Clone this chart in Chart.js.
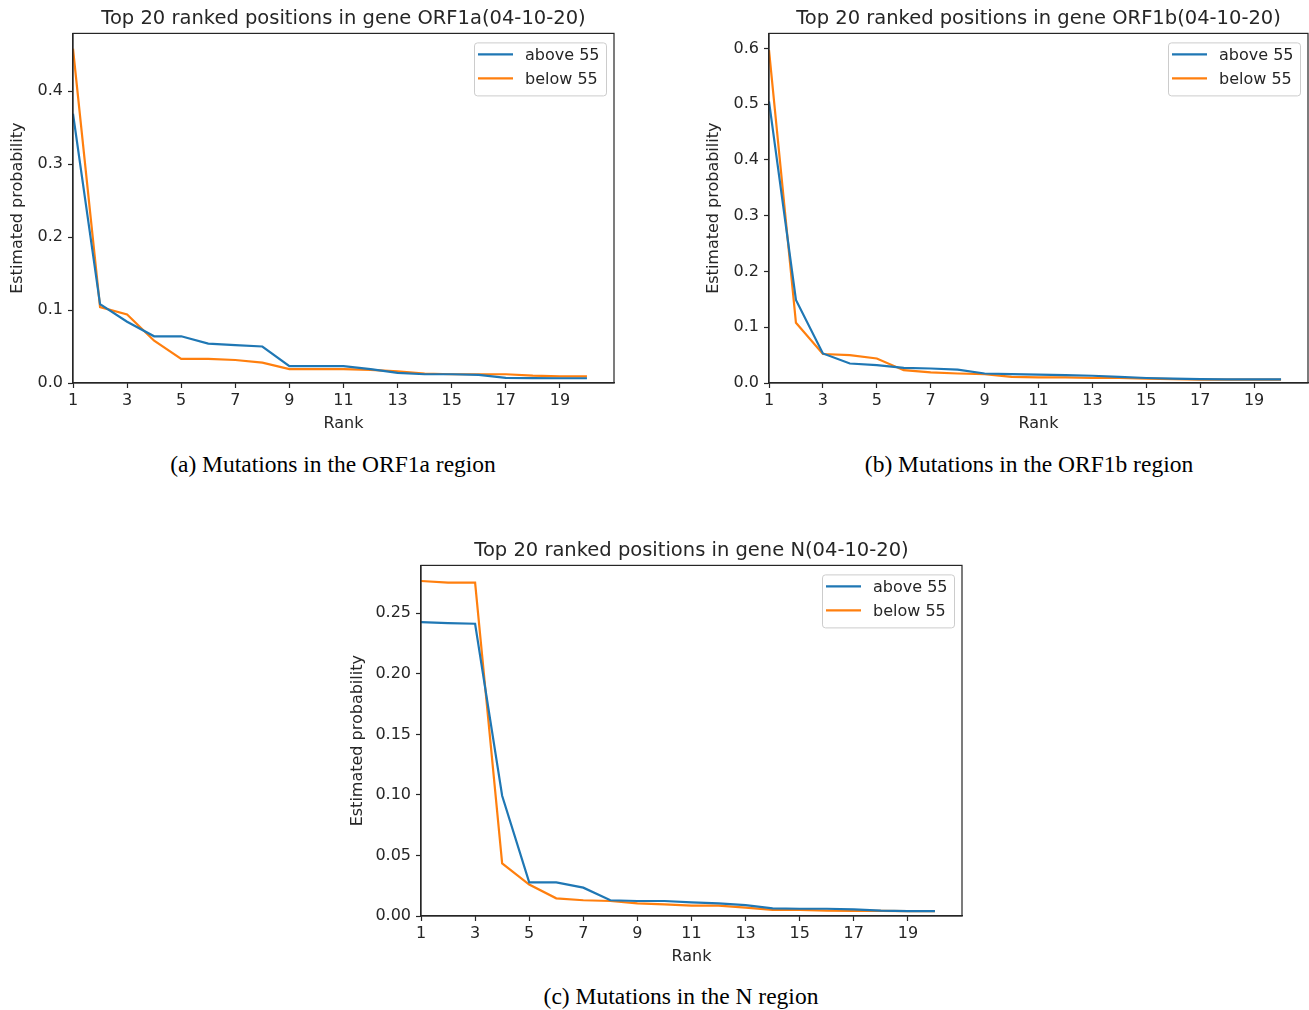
<!DOCTYPE html>
<html>
<head>
<meta charset="utf-8">
<script src="https://cdn.jsdelivr.net/npm/chart.js@4"></script>
<style>
  body { margin: 0; background: #fff; width: 1309px; height: 1010px; position: relative; overflow: hidden; }
  canvas { position: absolute; }
  .caption { position: absolute; font-family: "Liberation Serif", "Times New Roman", serif; font-size: 23.5px; color: #000;
             line-height: 26px; white-space: nowrap; transform: translateX(-50%); }
</style>
</head>
<body>
<canvas id="chartA" width="640" height="440" style="left:0px;top:0px"></canvas>
<canvas id="chartB" width="613" height="440" style="left:696px;top:0px"></canvas>
<canvas id="chartC" width="640" height="441" style="left:348px;top:532px"></canvas>
<div class="caption" style="left:333px;top:451px">(a) Mutations in the ORF1a region</div>
<div class="caption" style="left:1029px;top:451px">(b) Mutations in the ORF1b region</div>
<div class="caption" style="left:681px;top:983px">(c) Mutations in the N region</div>
<script>
// ranks on the x axis
const ranks = [1, 2, 3, 4, 5, 6, 7, 8, 9, 10, 11, 12, 13, 14, 15, 16, 17, 18, 19, 20];
const rankTicks = [1, 3, 5, 7, 9, 11, 13, 15, 17, 19];
const seriesNames = ['above 55', 'below 55'];

// ORF1a
const orf1aAbove = [0.369, 0.108, 0.084, 0.064, 0.064, 0.054, 0.052, 0.050, 0.023, 0.023, 0.023, 0.019, 0.014, 0.012, 0.012, 0.011, 0.007, 0.0068, 0.0065, 0.0065];
const orf1aBelow = [0.458, 0.104, 0.094, 0.058, 0.033, 0.033, 0.0315, 0.028, 0.019, 0.019, 0.019, 0.018, 0.016, 0.013, 0.012, 0.012, 0.012, 0.010, 0.009, 0.009];
const orf1aTicks = [0.0, 0.1, 0.2, 0.3, 0.4];

// ORF1b
const orf1bAbove = [0.505, 0.149, 0.053, 0.035, 0.032, 0.027, 0.026, 0.024, 0.017, 0.016, 0.015, 0.014, 0.013, 0.011, 0.009, 0.008, 0.007, 0.0065, 0.0065, 0.0065];
const orf1bBelow = [0.597, 0.108, 0.052, 0.050, 0.044, 0.023, 0.019, 0.017, 0.016, 0.011, 0.010, 0.010, 0.009, 0.009, 0.008, 0.007, 0.006, 0.006, 0.006, 0.006];
const orf1bTicks = [0.0, 0.1, 0.2, 0.3, 0.4, 0.5, 0.6];

// N
const nAbove = [0.2428, 0.242, 0.2414, 0.0993, 0.0278, 0.0278, 0.0234, 0.013, 0.0124, 0.0124, 0.0113, 0.0105, 0.009, 0.0063, 0.006, 0.006, 0.0055, 0.0045, 0.004, 0.004];
const nBelow = [0.2767, 0.2753, 0.2753, 0.0435, 0.026, 0.0146, 0.013, 0.0124, 0.0104, 0.0096, 0.0085, 0.0085, 0.0069, 0.005, 0.005, 0.0045, 0.0043, 0.0043, 0.004, 0.004];
const nTicks = [0.00, 0.05, 0.10, 0.15, 0.20, 0.25];

const BLUE = '#1f77b4';
const ORANGE = '#ff7f0e';
const AXIS = '#262626';
const FONT = '"DejaVu Sans", sans-serif';

// full frame around the plot area, like matplotlib spines
const framePlugin = {
    id: 'frame',
    afterDraw(chart) {
        const a = chart.chartArea;
        const ctx = chart.ctx;
        ctx.save();
        ctx.strokeStyle = AXIS;
        ctx.lineWidth = 1.2;
        ctx.strokeRect(a.left, a.top, a.right - a.left, a.bottom - a.top);
        ctx.restore();
    }
};

// legend box in the upper right corner of the plot area
const innerLegend = {
    id: 'innerLegend',
    afterDraw(chart) {
        const a = chart.chartArea;
        const ctx = chart.ctx;
        const w = 132, h = 53;
        const x = a.right - 8 - w, y = a.top + 9;
        ctx.save();
        ctx.fillStyle = 'rgba(255,255,255,0.85)';
        ctx.strokeStyle = '#cccccc';
        ctx.lineWidth = 1;
        ctx.beginPath();
        ctx.roundRect(x + 0.5, y + 0.5, w, h, 3);
        ctx.fill();
        ctx.stroke();
        ctx.font = '16px ' + FONT;
        ctx.textBaseline = 'middle';
        chart.data.datasets.forEach((ds, i) => {
            const ly = y + 12 + i * 24;
            ctx.strokeStyle = ds.borderColor;
            ctx.lineWidth = 2.2;
            ctx.beginPath();
            ctx.moveTo(x + 4, ly);
            ctx.lineTo(x + 39, ly);
            ctx.stroke();
            ctx.fillStyle = AXIS;
            ctx.fillText(ds.label, x + 51, ly + 1);
        });
        ctx.restore();
    }
};

function makeChart(id, title, above, below, yTicks, yMax, decimals, yAxisWidth, yTitlePad) {
    const toPoints = arr => arr.map((v, i) => ({ x: ranks[i], y: v }));
    return new Chart(document.getElementById(id), {
        type: 'line',
        data: {
            datasets: [
                { label: seriesNames[0], data: toPoints(above), borderColor: BLUE, borderWidth: 2.2, pointRadius: 0, tension: 0, fill: false },
                { label: seriesNames[1], data: toPoints(below), borderColor: ORANGE, borderWidth: 2.2, pointRadius: 0, tension: 0, fill: false }
            ]
        },
        options: {
            responsive: false,
            animation: false,
            devicePixelRatio: 1,
            layout: { padding: { left: 0, right: id === 'chartB' ? 1 : 26, top: 0, bottom: 0 } },
            plugins: {
                legend: { display: false },
                tooltip: { enabled: false },
                title: {
                    display: true,
                    text: title,
                    fullSize: false,
                    color: AXIS,
                    font: { family: FONT, size: 19.5, weight: 'normal' },
                    padding: { top: 7, bottom: 3 }
                }
            },
            scales: {
                x: {
                    type: 'linear',
                    min: 1,
                    max: 21,
                    afterBuildTicks: axis => { axis.ticks = rankTicks.map(v => ({ value: v })); },
                    afterFit: axis => { axis.height = 57; },
                    grid: { drawOnChartArea: false, tickLength: 5, color: AXIS, tickWidth: 1.2 },
                    border: { color: AXIS, width: 1.2 },
                    ticks: { color: AXIS, font: { family: FONT, size: 16 }, padding: 3, maxRotation: 0, autoSkip: false },
                    title: { display: true, text: 'Rank', color: AXIS, font: { family: FONT, size: 16 }, padding: { top: 0, bottom: 7 } }
                },
                y: {
                    min: 0,
                    max: yMax,
                    afterBuildTicks: axis => { axis.ticks = yTicks.map(v => ({ value: v })); },
                    afterFit: axis => { axis.width = yAxisWidth; },
                    grid: { drawOnChartArea: false, tickLength: 5, color: AXIS, tickWidth: 1.2 },
                    border: { color: AXIS, width: 1.2 },
                    ticks: { color: AXIS, font: { family: FONT, size: 16 }, padding: 5, callback: v => v.toFixed(decimals) },
                    title: { display: true, text: 'Estimated probability', color: AXIS, font: { family: FONT, size: 16 }, padding: { top: yTitlePad, bottom: 0 } }
                }
            }
        },
        plugins: [framePlugin, innerLegend]
    });
}

makeChart('chartA', 'Top 20 ranked positions in gene ORF1a(04-10-20)', orf1aAbove, orf1aBelow, orf1aTicks, 0.479, 1, 73, 8);
makeChart('chartB', 'Top 20 ranked positions in gene ORF1b(04-10-20)', orf1bAbove, orf1bBelow, orf1bTicks, 0.627, 1, 73, 8);
makeChart('chartC', 'Top 20 ranked positions in gene N(04-10-20)', nAbove, nBelow, nTicks, 0.2896, 2, 73, 0);
</script>
</body>
</html>
